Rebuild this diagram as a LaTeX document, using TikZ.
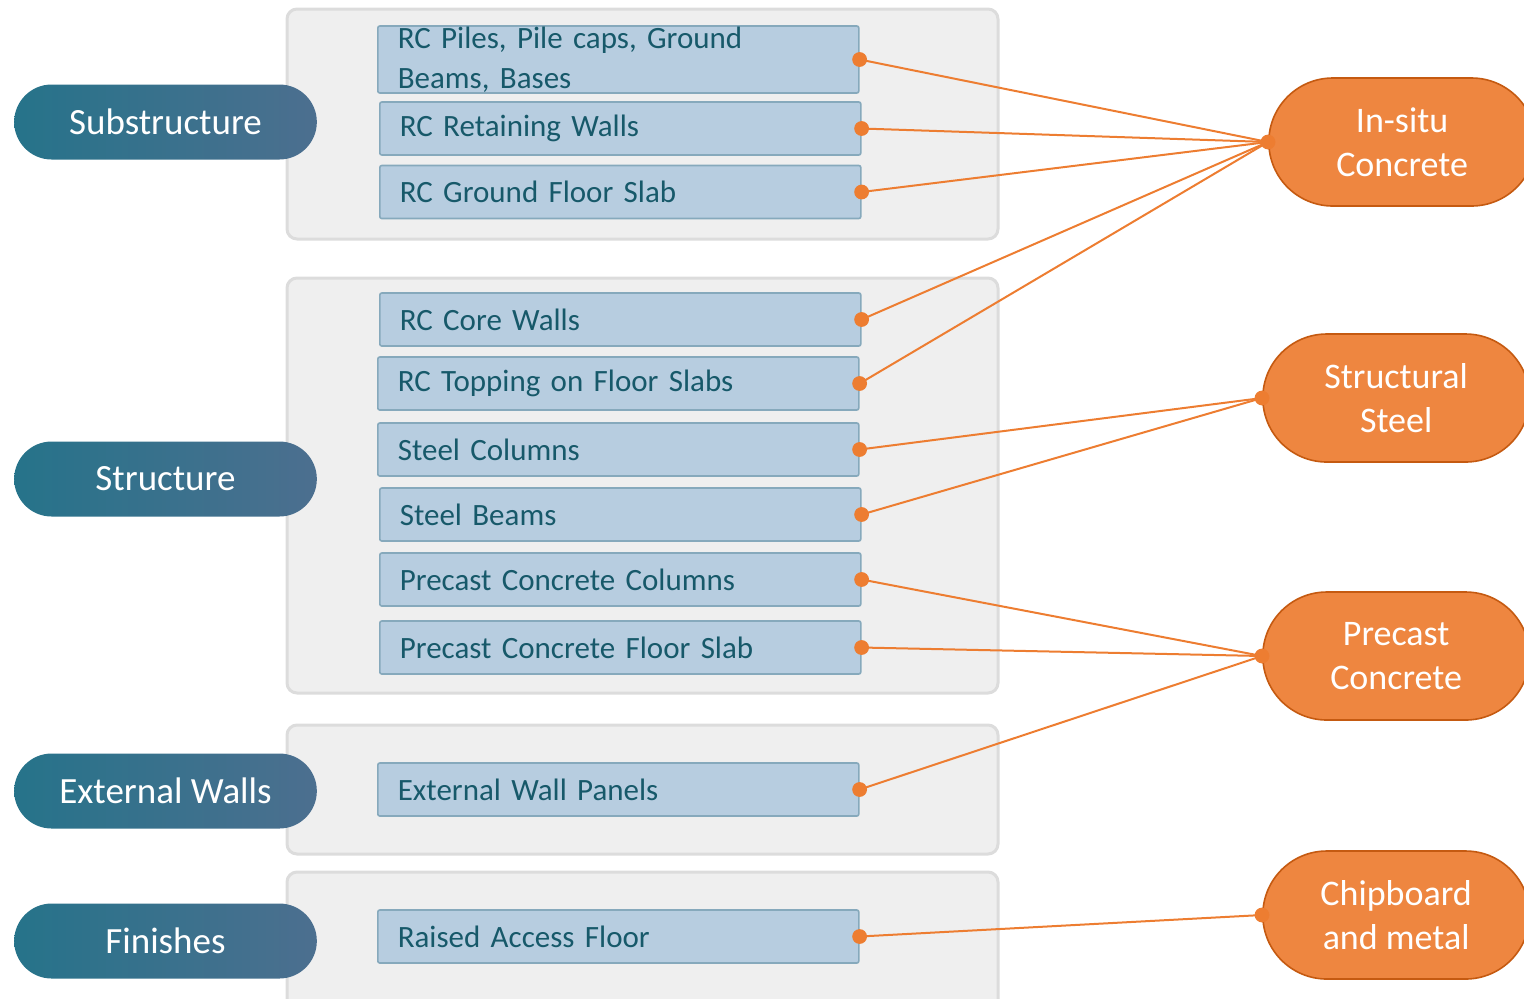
\documentclass[tikz,border=0pt]{standalone}
\usepackage{fontspec}
\setmainfont{Carlito}
\usetikzlibrary{shapes.misc}
\definecolor{panelgrau}{HTML}{EFEFEF}
\definecolor{panelrand}{HTML}{DCDCDC}
\definecolor{boxblau}{HTML}{B7CDE0}
\definecolor{boxrand}{HTML}{86A9BC}
\definecolor{boxtext}{HTML}{17596A}
\definecolor{tealA}{HTML}{26738A}
\definecolor{tealB}{HTML}{4C6F8F}
\definecolor{orangeA}{HTML}{EE8640}
\definecolor{orangeB}{HTML}{C55A11}
\definecolor{linie}{HTML}{ED7D31}
\begin{document}
\begin{tikzpicture}[x=0.5pt,y=-0.5pt,
  bereich/.style={fill=panelgrau,draw=panelrand,line width=1.5pt,rounded corners=5pt},
  gruppe/.style={rounded rectangle,minimum width=158pt,minimum height=37.5pt,
    left color=tealA,right color=tealB,text=white,font=\fontsize{18.5}{22}\selectfont},
  teil/.style={rectangle,anchor=west,fill=boxblau,draw=boxrand,line width=0.8pt,
    rounded corners=1pt,minimum width=240.5pt,minimum height=26.5pt,text width=220.5pt,
    inner xsep=10pt,align=left,text=boxtext,font=\fontsize{15.5}{19}\selectfont},
  stoff/.style={rounded rectangle,anchor=west,minimum width=140pt,minimum height=64pt,
    fill=orangeA,draw=orangeB,line width=0.8pt,text=white,align=center,
    font=\fontsize{18}{22}\selectfont},
  verb/.style={draw=linie,line width=1pt},
  punkt/.style={fill=linie}]
\useasboundingbox (0,0) rectangle (1524,998);
\clip (0,0) rectangle (1524,998);
% Bereiche
\draw[bereich] (287,9) rectangle (998,239);
\draw[bereich] (287,278) rectangle (998,693);
\draw[bereich] (287,725) rectangle (998,854);
\draw[bereich] (287,872) rectangle (998,1010);
% Gruppen
\node[gruppe] (sub) at (165.5,122) {Substructure};
\node[gruppe] (str) at (165.5,479) {Structure};
\node[gruppe] (ext) at (165.5,791) {External Walls};
\node[gruppe] (fin) at (165.5,941) {Finishes};
% Bauteile
\def\teil#1#2#3#4{\node[teil] (#1) at (#2,#3) {#4};}
\node[teil,minimum height=33.5pt,inner ysep=0pt,font=\fontsize{15.5}{20}\selectfont] (piles) at (377,59.5) {RC Piles, Pile caps, Ground\\Beams, Bases};
\teil{ret}{379}{128.5}{RC Retaining Walls}
\teil{gfs}{379}{192}{RC Ground Floor Slab}
\teil{core}{379}{319.5}{RC Core Walls}
\teil{top}{377}{383.5}{RC Topping on Floor Slabs}
\teil{scol}{377}{449.5}{Steel Columns}
\teil{sbeam}{379}{514.5}{Steel Beams}
\teil{pcol}{379}{579.5}{Precast Concrete Columns}
\teil{pslab}{379}{647.5}{Precast Concrete Floor Slab}
\teil{ewp}{377}{789.5}{External Wall Panels}
\teil{raf}{377}{936.5}{Raised Access Floor}
% Materialien
\node[stoff] (insitu) at (1268,142) {In-situ\\Concrete};
\node[stoff] (steel) at (1262,398) {Structural\\Steel};
\node[stoff] (precast) at (1262,656) {Precast\\Concrete};
\node[stoff] (chip) at (1262,915) {Chipboard\\and metal};
% Verbindungen
\foreach \a/\b in {piles/insitu,ret/insitu,gfs/insitu,core/insitu,top/insitu,
  scol/steel,sbeam/steel,pcol/precast,pslab/precast,ewp/precast,raf/chip}{
  \draw[verb] (\a.east) -- (\b.west);
  \fill[punkt] (\a.east) circle[radius=3.7pt];
}
\foreach \b in {insitu,steel,precast,chip}
  \fill[punkt] (\b.west) circle[radius=3.7pt];
\end{tikzpicture}
\end{document}
